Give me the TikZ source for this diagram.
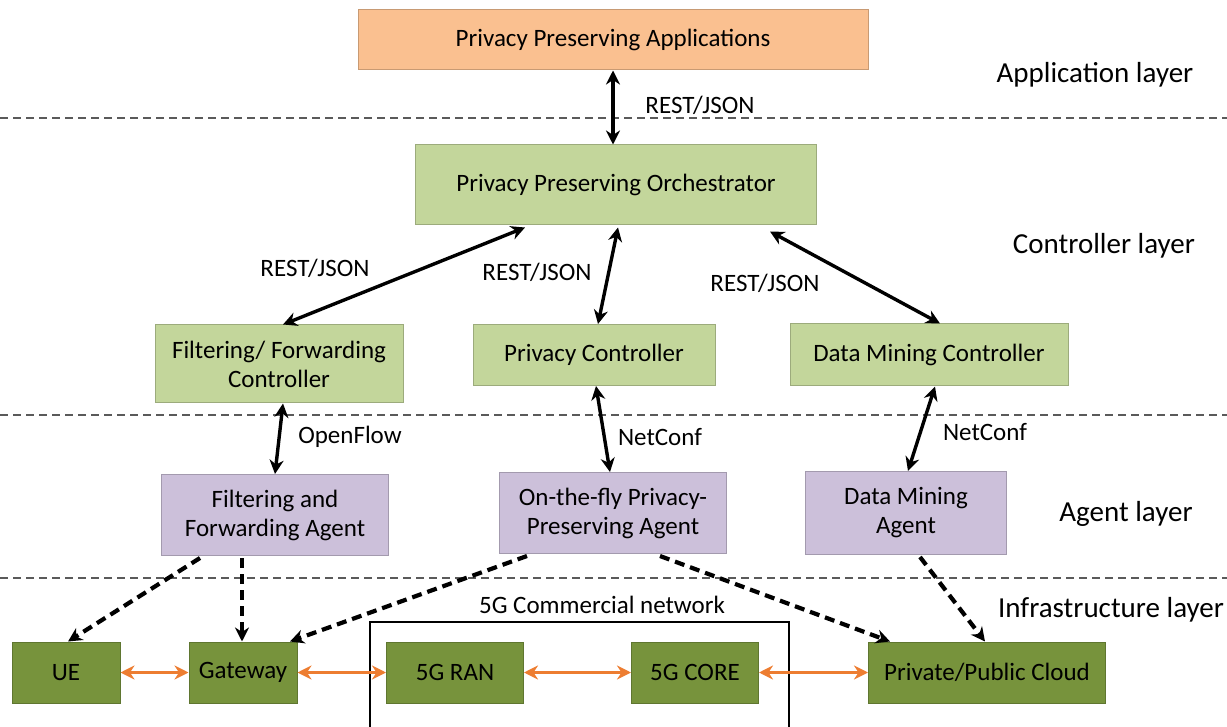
\documentclass[tikz,border=0pt]{standalone}
\usepackage{fontspec}
\setmainfont{Carlito}
\usetikzlibrary{arrows.meta,calc}

\definecolor{appfill}{RGB}{250,192,144}
\definecolor{ctrlfill}{RGB}{195,214,155}
\definecolor{agentfill}{RGB}{204,192,218}
\definecolor{infrafill}{RGB}{119,147,60}
\definecolor{linkorange}{RGB}{237,125,49}
\definecolor{sepgray}{RGB}{90,90,90}

\tikzset{
  box/.style={draw=#1!80!black, fill=#1, line width=0.5pt, align=center, inner sep=2pt},
  layer/.style={anchor=center, font=\fontsize{14.5}{17}\selectfont},
  proto/.style={anchor=center},
  sep/.style={sepgray, line width=0.6pt, dash pattern=on 4pt off 2.5pt},
  api/.style={<->, line width=1.7pt},
  agentlink/.style={->, line width=2.1pt, dash pattern=on 5pt off 3pt},
  datalink/.style={{Stealth[length=7pt,width=7pt]}-{Stealth[length=7pt,width=7pt]}, linkorange, line width=1.8pt}
}

\begin{document}
\begin{tikzpicture}[x=0.5pt, y=-0.5pt, >={Stealth[length=7pt,width=7pt]},
    font=\fontsize{12.5}{14.5}\selectfont]
    \useasboundingbox (0,0) rectangle (1227,727);
    \clip (0,0) rectangle (1227,727);

    % layer separators
    \draw[sep] (0,118) -- (1227,118);
    \draw[sep] (0,415) -- (1227,415);
    \draw[sep] (0,578) -- (1227,578);

    \node[layer] (lapp) at (1095,75) {Application layer};
    \node[layer] (lctrl) at (1104,246) {Controller layer};
    \node[layer] (lagent) at (1126,514) {Agent layer};
    \node[layer] (linfra) at (1111,610) {Infrastructure layer};

    % application and controller layer
    \node[box=appfill, minimum width=255pt, minimum height=30pt] (apps) at (613,40) {Privacy Preserving Applications};
    \node[box=ctrlfill, minimum width=200.5pt, minimum height=40pt] (orch) at (616,185) {Privacy Preserving Orchestrator};
    \node[box=ctrlfill, minimum width=124pt, minimum height=39pt] (ffc) at (279,364) {Filtering/ Forwarding\\Controller};
    \node[box=ctrlfill, minimum width=121pt, minimum height=30.5pt] (pc) at (594,355) {Privacy Controller};
    \node[box=ctrlfill, minimum width=139pt, minimum height=31pt] (dmc) at (929,355) {Data Mining Controller};

    % agent layer
    \node[box=agentfill, minimum width=113.5pt, minimum height=40.5pt] (ffa) at (275,515) {Filtering and\\Forwarding Agent};
    \node[box=agentfill, minimum width=113.5pt, minimum height=40.5pt] (otf) at (613,513) {On-the-fly Privacy-\\Preserving Agent};
    \node[box=agentfill, minimum width=100.5pt, minimum height=41.5pt] (dma) at (906,513) {Data Mining\\Agent};

    % infrastructure layer
    \draw[line width=1pt] (370,622) rectangle (789,760);
    \node (net) at (602,605) {5G Commercial network};
    \node[box=infrafill, minimum width=54pt, minimum height=30.5pt] (ue) at (66,672.5) {UE};
    \node[box=infrafill, minimum width=54pt, minimum height=30.5pt] (gw) at (243,672.5) {Gateway};
    \node[box=infrafill, minimum width=68.5pt, minimum height=30.5pt] (ran) at (455,672.5) {5G RAN};
    \node[box=infrafill, minimum width=63.5pt, minimum height=30.5pt] (core) at (695,672.5) {5G CORE};
    \node[box=infrafill, minimum width=118.5pt, minimum height=30.5pt] (cloud) at (987,672.5) {Private/Public Cloud};

    % northbound / southbound interfaces
    \draw[api] (apps.south) -- (apps.south |- orch.north);
    \draw[api] ($(orch.south)+(-91,2)$) -- ($(ffc.north)+(4,0)$);
    \draw[api] ($(orch.south)+(2,2)$) -- ($(pc.north)+(4,0)$);
    \draw[api] ($(orch.south)+(154,6)$) -- ($(dmc.north)+(11,0)$);
    \draw[api] ($(ffc.south)+(4,0)$) -- (ffa.north);
    \draw[api] ($(pc.south)+(2,0)$) -- ($(otf.north)+(-3,0)$);
    \draw[api] ($(dmc.south)+(6,0)$) -- ($(dma.north)+(2,0)$);

    \node[proto] (p1) at (700,105) {REST/JSON};
    \node[proto] (p2) at (315,268) {REST/JSON};
    \node[proto] (p3) at (537,272) {REST/JSON};
    \node[proto] (p4) at (765,283) {REST/JSON};
    \node[proto] (p5) at (350,437) {OpenFlow};
    \node[proto] (p6) at (660,437) {NetConf};
    \node[proto] (p7) at (985,432) {NetConf};

    % agents acting on the infrastructure
    \draw[agentlink] ($(ffa.south)+(-75,2)$) -- ($(ue.north)+(2,0)$);
    \draw[agentlink] ($(ffa.south)+(-33,2)$) -- ($(gw.north)+(-1,0)$);
    \draw[agentlink] ($(otf.south)+(-86,2)$) -- ($(gw.north)+(47,0)$);
    \draw[agentlink] ($(otf.south)+(47,2)$) -- ($(cloud.north)+(-97,0)$);
    \draw[agentlink] ($(dma.south)+(14,2)$) -- ($(cloud.north)+(-2,0)$);

    % data plane
    \draw[datalink] (ue) -- (gw);
    \draw[datalink] (gw) -- (ran);
    \draw[datalink] (ran) -- (core);
    \draw[datalink] (core) -- (cloud);
\end{tikzpicture}
\end{document}
